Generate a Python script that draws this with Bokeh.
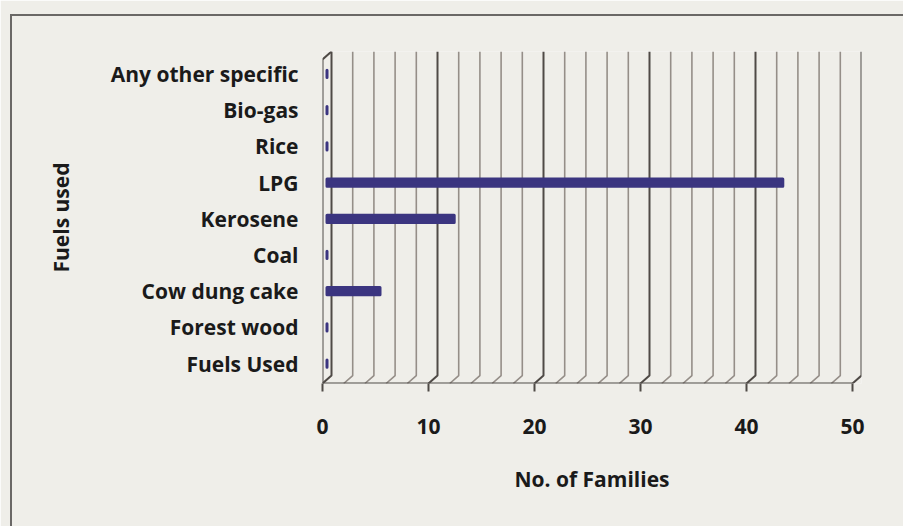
from bokeh.plotting import figure
from bokeh.models import Range1d, FixedTicker, ColumnDataSource
from bokeh.embed import file_html
from bokeh.resources import INLINE

# ---- data ----
categories = ["Fuels Used", "Forest wood", "Cow dung cake", "Coal", "Kerosene",
              "LPG", "Rice", "Bio-gas", "Any other specific"]
families = [0, 0, 5, 0, 12, 43, 0, 0, 0]
x_ticks = [0, 10, 20, 30, 40, 50]
grid_step = 2
x_title = "No. of Families"
y_title = "Fuels used"

# ---- style ----
BG = "#efeee9"
BAR = "#3b3580"
TXT = "#1a1a1a"
MAJOR = "#4f4a46"
MINOR = "#958e88"
FONT = "Open Sans"
FS = "21px"
DEPTH_X = 0.85   # 3-D depth of the chart walls, in x units
DEPTH_Y = 0.22   # 3-D depth in y units
Y_LO, Y_HI = -0.55, 8.62
X_MAX = x_ticks[-1]

p = figure(width=903, height=526,
           x_range=Range1d(0, X_MAX + DEPTH_X), y_range=Range1d(Y_LO, Y_HI),
           output_backend="svg", toolbar_location=None,
           min_border_left=322, min_border_right=42,
           min_border_top=51, min_border_bottom=143)
p.background_fill_color = BG
p.border_fill_color = BG
p.outline_line_color = None
p.xgrid.grid_line_color = None
p.ygrid.grid_line_color = None

# outer chart frame (left and top edges visible in the scan)
p.stylesheets = [
    ":host::after { content: ''; position: absolute; left: 10px; top: 14px; "
    "right: -20px; bottom: -20px; border-left: 2px solid #6a6866; "
    "border-top: 2px solid #6a6866; pointer-events: none; z-index: 10; }"
]

# ---- 3-D back wall grid lines ----
gx = list(range(x_ticks[0], X_MAX + 1, grid_step))
maj = [g for g in gx if g in x_ticks]
mnr = [g for g in gx if g not in x_ticks]
def wall_lines(vals):
    xs = [[g, g + DEPTH_X, g + DEPTH_X] for g in vals]
    ys = [[Y_LO, Y_LO + DEPTH_Y, Y_HI] for g in vals]
    return xs, ys
xs, ys = wall_lines(mnr)
p.multi_line(xs, ys, line_color=MINOR, line_width=1.6)
xs, ys = wall_lines(maj)
p.multi_line(xs, ys, line_color=MAJOR, line_width=2)
# front edge of the left side wall
p.line([0, 0, DEPTH_X], [Y_LO, Y_HI - DEPTH_Y, Y_HI], line_color=MAJOR, line_width=2)
# front floor edge
p.line([0, X_MAX], [Y_LO, Y_LO], line_color=MAJOR, line_width=2)

# ---- bars ----
idx = list(range(len(categories)))
src = ColumnDataSource(dict(
    y=idx,
    left=[DEPTH_X / 2] * len(families),
    right=[v + DEPTH_X / 2 for v in families],
))
p.hbar(y="y", left="left", right="right", height=0.2, source=src,
       fill_color=BAR, line_color=BAR, line_width=3, line_join="round")

# ---- axes ----
xa = p.xaxis[0]
xa.ticker = FixedTicker(ticks=x_ticks, minor_ticks=[])
xa.axis_line_color = None
xa.major_tick_out = 8
xa.major_tick_in = 0
xa.major_tick_line_color = MAJOR
xa.major_tick_line_width = 2
xa.minor_tick_line_color = None
xa.major_label_standoff = 27
xa.major_label_text_font = FONT
xa.major_label_text_font_style = "bold"
xa.major_label_text_font_size = FS
xa.major_label_text_color = TXT
xa.axis_label = x_title
xa.axis_label_standoff = 28
xa.axis_label_text_font = FONT
xa.axis_label_text_font_style = "bold"
xa.axis_label_text_font_size = FS
xa.axis_label_text_color = TXT

ya = p.yaxis[0]
ya.ticker = FixedTicker(ticks=idx, minor_ticks=[])
ya.major_label_overrides = {i: c for i, c in enumerate(categories)}
ya.axis_line_color = None
ya.major_tick_line_color = None
ya.minor_tick_line_color = None
ya.major_tick_out = 0
ya.major_tick_in = 0
ya.major_label_standoff = 24
ya.major_label_text_font = FONT
ya.major_label_text_font_style = "bold"
ya.major_label_text_font_size = FS
ya.major_label_text_color = TXT
ya.axis_label = y_title
ya.axis_label_standoff = 33
ya.axis_label_text_font = FONT
ya.axis_label_text_font_style = "bold"
ya.axis_label_text_font_size = FS
ya.axis_label_text_color = TXT

open("out.html", "w").write(file_html(p, INLINE))
